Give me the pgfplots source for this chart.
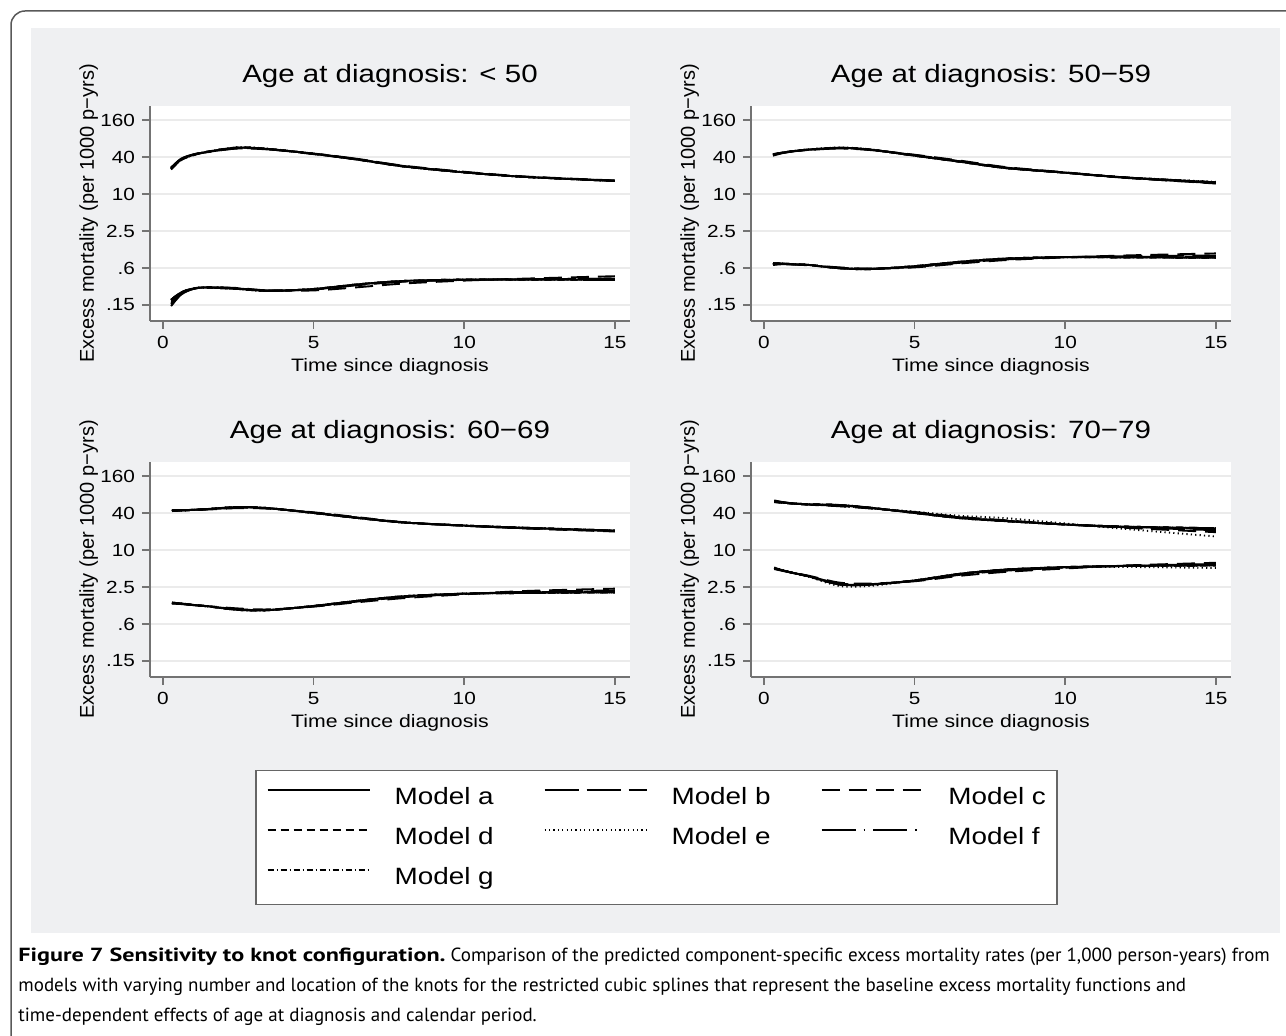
\documentclass[border=0pt]{standalone}
\usepackage{fontspec}
\usepackage{graphicx}
\setmainfont{Liberation Sans}[FakeStretch=1.18]
\newfontfamily\plainsans{Liberation Sans}
\newfontfamily\capfont{PT Sans}
\usepackage{pgfplots}
\usepackage{pgfplotstable}
\pgfplotsset{compat=1.18}
\definecolor{bggray}{RGB}{239,240,242}

\pgfplotstableread{
t a b c d e f g
0.27 25.5 27.0 26.0 25.0 25.5 26.5 25.8
0.6 36.0 37.5 36.5 35.5 36.0 37.0 36.2
1.0 43.0 44.0 43.5 42.5 43.0 43.8 43.2
1.5 49.0 48.5 48.0 49.0 49.2 48.8 49.0
2.5 57.0 55.0 55.5 57.0 57.5 56.5 57.0
3.5 54.0 53.0 53.5 54.0 54.5 53.5 54.0
5 45.0 45.5 44.5 45.0 45.0 45.5 45.0
6.5 36.0 37.0 36.5 36.0 36.0 36.5 36.2
8 28.0 28.5 28.8 28.0 28.0 28.2 28.0
10 22.5 22.5 23.0 22.5 22.5 22.6 22.5
12 19.0 19.0 19.3 19.0 19.0 19.0 19.0
15 16.3 16.5 16.6 16.3 16.3 16.4 16.3
}\PoneU
\pgfplotstableread{
t a b c d e f g
0.27 0.19 0.15 0.17 0.19 0.185 0.16 0.19
0.6 0.25 0.23 0.24 0.25 0.25 0.235 0.25
1.0 0.29 0.285 0.29 0.29 0.29 0.285 0.29
1.5 0.30 0.305 0.305 0.30 0.30 0.305 0.30
2.5 0.285 0.29 0.295 0.285 0.285 0.29 0.285
3.5 0.265 0.27 0.27 0.265 0.265 0.268 0.265
5 0.285 0.28 0.27 0.285 0.285 0.28 0.285
6.5 0.34 0.33 0.305 0.34 0.34 0.335 0.34
8 0.385 0.375 0.35 0.385 0.385 0.38 0.385
10 0.405 0.40 0.39 0.405 0.405 0.40 0.405
12 0.405 0.41 0.42 0.405 0.405 0.41 0.405
15 0.40 0.42 0.46 0.40 0.40 0.42 0.40
}\PoneL
\pgfplotstableread{
t a b c d e f g
0.3 44.0 42.0 43.0 44.5 44.0 43.5 44.0
0.6 47.0 46.0 46.5 47.0 47.0 46.8 47.0
1.0 50.0 49.5 49.5 50.0 50.2 49.8 50.0
1.5 53.0 52.0 52.5 53.0 53.2 52.8 53.0
2.5 56.5 55.0 55.5 56.5 57.0 56.0 56.5
3.5 53.0 52.0 52.5 53.0 53.5 52.8 53.0
5 42.0 43.0 43.5 42.0 42.0 42.5 42.0
6.5 33.5 34.0 35.0 33.5 33.5 34.0 33.5
8 26.5 27.0 27.5 26.5 26.5 26.8 26.5
10 22.2 22.2 22.5 22.2 22.2 22.3 22.2
12 18.6 18.3 18.5 18.6 18.6 18.4 18.6
15 15.5 15.0 14.8 15.5 15.8 15.2 15.5
}\PtwoU
\pgfplotstableread{
t a b c d e f g
0.3 0.745 0.70 0.72 0.745 0.75 0.72 0.745
0.6 0.74 0.72 0.73 0.74 0.74 0.73 0.74
1.0 0.72 0.71 0.72 0.72 0.72 0.715 0.72
1.5 0.70 0.69 0.70 0.70 0.70 0.695 0.70
2.5 0.62 0.63 0.64 0.62 0.62 0.625 0.62
3.5 0.60 0.61 0.61 0.60 0.60 0.605 0.60
5 0.67 0.65 0.64 0.67 0.67 0.66 0.67
6.5 0.79 0.76 0.74 0.79 0.79 0.775 0.79
8 0.89 0.86 0.84 0.89 0.89 0.875 0.89
10 0.94 0.94 0.93 0.94 0.94 0.94 0.94
12 0.93 0.97 1.00 0.93 0.93 0.95 0.93
15 0.92 1.00 1.08 0.92 0.92 0.96 0.92
}\PtwoL
\pgfplotstableread{
t a b c d e f g
0.3 43.0 44.0 44.5 43.0 43.0 43.5 43.0
0.6 43.8 44.5 44.5 43.8 43.8 44.2 43.8
1.0 45.0 45.0 44.5 45.0 45.0 45.0 45.0
1.5 46.5 46.0 45.5 46.5 46.5 46.2 46.5
2.5 50.0 48.5 48.0 50.0 50.0 49.2 50.0
3.5 48.0 47.5 47.0 48.0 48.0 47.8 48.0
5 40.0 40.5 41.0 40.0 40.0 40.2 40.0
6.5 33.0 33.5 34.0 33.0 33.0 33.2 33.0
8 28.0 28.0 28.3 28.0 28.0 28.0 28.0
10 25.0 24.8 24.8 25.0 25.0 24.9 25.0
12 23.0 22.6 22.4 23.0 23.0 22.8 23.0
15 20.7 20.3 20.0 20.7 20.7 20.5 20.7
}\PthreeU
\pgfplotstableread{
t a b c d e f g
0.3 1.39 1.36 1.34 1.39 1.39 1.37 1.39
0.6 1.35 1.33 1.32 1.35 1.35 1.34 1.35
1.0 1.28 1.27 1.27 1.28 1.28 1.27 1.28
1.5 1.21 1.21 1.22 1.21 1.21 1.21 1.21
2.5 1.06 1.09 1.12 1.06 1.06 1.08 1.06
3.5 1.05 1.06 1.08 1.05 1.05 1.06 1.05
5 1.23 1.21 1.20 1.23 1.23 1.22 1.23
6.5 1.50 1.46 1.42 1.50 1.50 1.48 1.50
8 1.77 1.71 1.65 1.77 1.77 1.74 1.77
10 1.95 1.93 1.90 1.95 1.95 1.94 1.95
12 2.00 2.08 2.15 2.00 2.00 2.04 2.00
15 2.05 2.20 2.35 2.05 2.05 2.12 2.05
}\PthreeL
\pgfplotstableread{
t a b c d e f g
0.34 61.0 64.0 62.0 60.0 62.5 63.0 61.0
0.6 59.0 60.5 59.5 58.5 59.5 60.0 59.0
1.0 57.0 57.0 56.5 56.8 57.0 57.0 57.0
1.5 55.5 55.0 54.5 55.5 55.0 55.0 55.5
2.5 54.0 52.0 51.5 54.0 52.5 53.0 54.0
3.5 49.0 48.0 47.5 49.0 48.0 48.5 49.0
5 40.0 41.0 41.5 40.0 42.0 40.5 40.0
6.5 33.0 34.0 34.5 33.0 36.0 33.5 33.0
8 29.5 30.0 30.5 29.5 33.0 29.8 29.5
10 26.0 26.0 26.0 26.0 27.0 26.0 26.0
12 24.0 23.5 23.0 24.0 22.0 23.8 24.0
15 22.6 21.0 19.5 22.6 16.6 21.8 22.6
}\PfourU
\pgfplotstableread{
t a b c d e f g
0.34 5.1 5.0 4.9 5.1 5.2 5.0 5.1
0.6 4.7 4.65 4.6 4.7 4.75 4.65 4.7
1.0 4.2 4.2 4.2 4.2 4.2 4.2 4.2
1.5 3.7 3.75 3.8 3.7 3.65 3.75 3.7
2.5 2.75 2.85 2.95 2.75 2.6 2.8 2.75
3.5 2.72 2.78 2.85 2.72 2.6 2.75 2.72
5 3.2 3.15 3.1 3.2 3.2 3.15 3.2
6.5 4.1 3.95 3.8 4.1 4.1 4.0 4.1
8 4.8 4.6 4.4 4.8 4.8 4.7 4.8
10 5.27 5.15 5.0 5.27 5.2 5.2 5.27
12 5.5 5.55 5.6 5.5 5.3 5.5 5.5
15 5.6 5.9 6.2 5.6 5.1 5.8 5.6
}\PfourL

\tikzset{
  ma/.style={black, line width=0.95pt, solid},
  mb/.style={black, line width=0.95pt, dash pattern=on 17pt off 4pt},
  mc/.style={black, line width=0.95pt, dash pattern=on 9pt off 4.5pt},
  md/.style={black, line width=0.95pt, dash pattern=on 4pt off 2.5pt},
  me/.style={black, line width=0.95pt, dash pattern=on 0.6pt off 1.6pt},
  mf/.style={black, line width=0.95pt, dash pattern=on 17pt off 4pt on 0.8pt off 4pt},
  mg/.style={black, line width=0.95pt, dash pattern=on 3pt off 1.5pt on 0.5pt off 1.5pt},
}
\pgfplotsset{
  fpanel/.style={
    scale only axis, width=240pt, height=107.5pt,
    xmin=-0.43, xmax=15.5, ymin=0.0859, ymax=270,
    xtick={0,5,10,15}, xticklabels={0,5,10,15},
    ytick={0.15625,0.625,2.5,10,40,160},
    yticklabels={.15,.6,2.5,10,40,160},
    axis x line*=bottom, axis y line*=left,
    axis line style={black!55, line width=0.9pt},
    tick align=outside, major tick length=4pt,
    tick style={black!55, line width=0.8pt},
    ymajorgrids, major grid style={black!8, line width=0.8pt},
    axis background/.style={fill=white},
    tick label style={font=\fontsize{8.8}{10}\selectfont},
    xlabel={Time since diagnosis},
    ylabel={Excess mortality (per 1000 p−yrs)},
    title style={at={(axis description cs:0.5,1.0558)}, anchor=base, inner sep=0pt, font=\fontsize{12.5}{14}\selectfont},
    xlabel style={at={(axis description cs:0.5,-0.2372)}, anchor=base, inner sep=0pt, font=\fontsize{9}{11}\selectfont},
    ylabel style={at={(axis description cs:-0.117,0.5)}, anchor=base, inner sep=0pt, font=\plainsans\fontsize{10}{12}\selectfont},
  },
}
\newcommand\seven[1]{%
  \addplot[smooth, me] table[x=t,y=e]{#1};
  \addplot[smooth, md] table[x=t,y=d]{#1};
  \addplot[smooth, mg] table[x=t,y=g]{#1};
  \addplot[smooth, mf] table[x=t,y=f]{#1};
  \addplot[smooth, mc] table[x=t,y=c]{#1};
  \addplot[smooth, mb] table[x=t,y=b]{#1};
  \addplot[smooth, ma] table[x=t,y=a]{#1};
}

\begin{document}
\begin{tikzpicture}
\useasboundingbox (0pt,0pt) rectangle (643pt,-518pt);
\draw[black!65, line width=0.75pt, rounded corners=7pt] (5.5pt,-530pt) -- (5.5pt,-5.5pt) -- (650pt,-5.5pt);
\fill[bggray] (15.5pt,-14pt) rectangle (640pt,-466.5pt);

\begin{axis}[ymode=log, fpanel, at={(75pt,-160.5pt)}, anchor=south west, title={Age at diagnosis: < 50}]
\seven{\PoneU}
\seven{\PoneL}
\end{axis}

\begin{axis}[ymode=log, fpanel, at={(375.5pt,-160.5pt)}, anchor=south west, title={Age at diagnosis: 50−59}]
\seven{\PtwoU}
\seven{\PtwoL}
\end{axis}

\begin{axis}[ymode=log, fpanel, at={(75pt,-338.5pt)}, anchor=south west, title={Age at diagnosis: 60−69}]
\seven{\PthreeU}
\seven{\PthreeL}
\end{axis}

\begin{axis}[ymode=log, fpanel, at={(375.5pt,-338.5pt)}, anchor=south west, title={Age at diagnosis: 70−79}]
\seven{\PfourU}
\seven{\PfourL}
\end{axis}

\begin{axis}[scale only axis, width=643pt, height=518pt, at={(0pt,-518pt)}, anchor=south west,
  xmin=0, xmax=1286, ymin=-1036, ymax=0, hide axis,
  legend columns=3,
  legend image code/.code={\draw[#1] (0pt,4pt) -- (51pt,4pt);},
  legend style={at={(axis cs:255,-770)}, anchor=north west, draw=black!60, line width=0.75pt, fill=white,
    inner xsep=5.5pt, inner ysep=8pt, row sep=9pt,
    /tikz/every odd column/.append style={column sep=12pt},
    nodes={inner sep=0pt, font=\fontsize{11.8}{14}\selectfont, text height=9pt, text depth=2pt},
    cells={anchor=west}},
]
\addlegendimage{ma}\addlegendentry{\makebox[74.5pt][l]{Model a}}
\addlegendimage{mb}\addlegendentry{\makebox[74.5pt][l]{Model b}}
\addlegendimage{mc}\addlegendentry{Model c}
\addlegendimage{md}\addlegendentry{\makebox[74.5pt][l]{Model d}}
\addlegendimage{me}\addlegendentry{\makebox[74.5pt][l]{Model e}}
\addlegendimage{mf}\addlegendentry{Model f}
\addlegendimage{mg}\addlegendentry{\makebox[74.5pt][l]{Model g}}
\end{axis}

\begin{scope}[every node/.style={anchor=base west, inner sep=0pt, font=\capfont\fontsize{9.5}{12}\selectfont}]
\node at (9pt,-481pt) {\scalebox{1.27}[1]{\textbf{Figure 7 Sensitivity to knot configuration.}} Comparison of the predicted component-specific excess mortality rates (per 1,000 person-years) from};
\node at (9pt,-496pt) {models with varying number and location of the knots for the restricted cubic splines that represent the baseline excess mortality functions and};
\node at (9pt,-511pt) {time-dependent effects of age at diagnosis and calendar period.};
\end{scope}
\end{tikzpicture}
\end{document}
